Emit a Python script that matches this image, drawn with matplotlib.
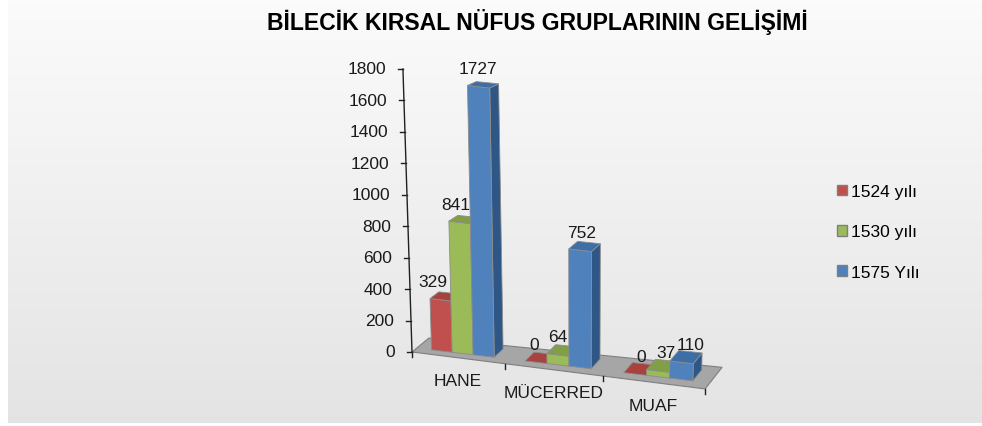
import numpy as np
import matplotlib
matplotlib.use('Agg')
import matplotlib.pyplot as plt
from matplotlib.patches import Polygon, Patch
from matplotlib.transforms import IdentityTransform
from matplotlib.lines import Line2D

plt.rcParams['font.family'] = ['Liberation Sans', 'DejaVu Sans']

# ---------------- data ----------------
title = 'BİLECİK KIRSAL NÜFUS GRUPLARININ GELİŞİMİ'
categories = ['HANE', 'MÜCERRED', 'MUAF']
series_names = ['1524 yılı', '1530 yılı', '1575 Yılı']
v1524 = [329, 0, 0]
v1530 = [841, 64, 37]
v1575 = [1727, 752, 110]
series_values = [v1524, v1530, v1575]
yticks = [0, 200, 400, 600, 800, 1000, 1200, 1400, 1600, 1800]

front_colors = ['#c0504d', '#9bbb59', '#4f81bd']
side_colors = ['#8a3533', '#6f8a3b', '#2f5786']
top_colors = ['#a8423f', '#819f46', '#3e6ea6']

W, H = 982, 427
fig = plt.figure(figsize=(W / 100, H / 100), dpi=100)

# background gradient
bg = fig.add_axes([8 / W, 3 / H, 1 - 8 / W, 1 - 3 / H])
g = np.linspace(0.985, 0.893, 256)[:, None]
img = np.dstack([g, g, g])
bg.imshow(img, aspect='auto', extent=[0, 1, 0, 1], interpolation='bilinear')
bg.set_xlim(0, 1); bg.set_ylim(0, 1)
bg.axis('off')

ax = fig.add_axes([412 / W, (H - 353) / H, 295 / W, 283 / H])
ax.set_xlim(-0.5, 2.5)
ax.set_ylim(0, 1800)
ax.axis('off')
ax.patch.set_alpha(0)

X0, Y0 = ax.transData.transform((-0.5, 0))
UNIT = ax.transData.transform((0.5, 0))[0] - X0
A, B = 90.5, 2.4          # mild horizontal perspective
S0, S1 = -0.126, -0.100   # floor slope front/back
DX, DY = 17.0, 14.0       # depth vector (pixels)
ID = IdentityTransform()


def proj(x, v, d, lean=True):
    X, Y = ax.transData.transform((x, v))
    u = (X - X0) / UNIT
    Xp = X0 + A * u + B * u * u
    h = Y - Y0
    s = S0 + (S1 - S0) * d
    k = -0.032 * (1 - (Xp - X0) / 160.0) if lean else 0.0
    f = 1 - 0.0021 * h
    return (Xp + k * h + DX * d, Y + s * (Xp - X0) + DY * d * f)


def poly(pts, fc, ec, lw=0.6, z=2):
    p = Polygon(pts, closed=True, facecolor=fc, edgecolor=ec, linewidth=lw,
                transform=ID, zorder=z, clip_on=False)
    fig.add_artist(p)

# floor
poly([proj(-0.5, 0, 0), proj(2.5, 0, 0), proj(2.5, 0, 1), proj(-0.5, 0, 1)],
     '#a6a6a6', '#7f7f7f', lw=0.8, z=1)

# y axis
a0 = proj(-0.5, 0, 0); a1 = proj(-0.5, 1800, 0)
fig.add_artist(Line2D([a0[0], a1[0]], [a0[1], a1[1]], color='#202020', lw=1.0,
                      transform=ID, zorder=3))
for t in yticks:
    p = proj(-0.5, t, 0)
    fig.add_artist(Line2D([p[0] - 5, p[0]], [p[1], p[1]], color='#202020', lw=1.0,
                          transform=ID, zorder=3))
    fig.text(p[0] - 17, p[1], str(t), transform=ID, ha='right', va='center',
             fontsize=12.5, color='#1a1a1a')

# category ticks & labels
for xb in [-0.5, 0.5, 1.5, 2.5]:
    p = proj(xb, 0, 0)
    fig.add_artist(Line2D([p[0], p[0]], [p[1], p[1] - 5], color='#202020', lw=1.0,
                          transform=ID, zorder=3))
for i, c in enumerate(categories):
    p = proj(i, 0, 0)
    fig.text(p[0], p[1] - 23, c, transform=ID, ha='center', va='center',
             fontsize=12.5, color='#1a1a1a')

# bars
bw = 0.225
d0, d1 = 0.28, 0.80
edge = '#8c8c8c'
for i in range(len(categories)):
    for j, vals in enumerate(series_values):
        v = vals[i]
        xl = i + (j - 1.5) * bw
        xr = xl + bw
        fbl, fbr = proj(xl, 0, d0), proj(xr, 0, d0)
        ftl, ftr = proj(xl, v, d0), proj(xr, v, d0)
        bbr = proj(xr, 0, d1)
        btl, btr = proj(xl, v, d1), proj(xr, v, d1)
        if v > 0:
            poly([fbr, bbr, btr, ftr], side_colors[j], edge)
            poly([fbl, fbr, ftr, ftl], front_colors[j], edge)
        poly([ftl, ftr, btr, btl], top_colors[j], edge)
        # data label
        cx = (fbl[0] + fbr[0]) / 2
        cy = (ftl[1] + ftr[1]) / 2
        off = 0.8 + 0.077 * (cx - 565)
        fig.text(cx + off, cy + 18, str(v), transform=ID, ha='center',
                 va='center', fontsize=12.5, color='#1a1a1a', zorder=5)

# title
fig.text(537 / W, 1 - 22 / H, title, ha='center', va='center', fontsize=16.6,
         fontweight='bold', color='#000000')

# legend
handles = [Patch(facecolor=front_colors[j], edgecolor='#7f7f7f', linewidth=1.0)
           for j in range(3)]
fig.legend(handles, series_names, loc='center left',
           bbox_to_anchor=(837 / W, 1 - 233 / H), frameon=False,
           fontsize=12.5, handlelength=0.55, handleheight=0.55,
           handletextpad=0.25, labelspacing=1.45, borderpad=0, borderaxespad=0)

fig.savefig('out.png', dpi=100)
